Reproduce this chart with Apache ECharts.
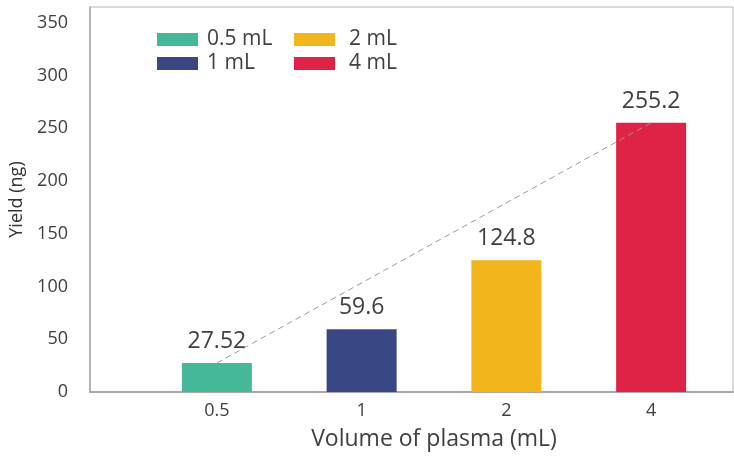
<!DOCTYPE html>
<html>
<head>
<meta charset="utf-8">
<script src="https://cdn.jsdelivr.net/npm/echarts@6/dist/echarts.min.js"></script>
<style>html,body{margin:0;padding:0;background:#fff}#c{width:734px;height:457px}</style>
</head>
<body>
<div id="c"></div>
<script>
var categories = ['0.5', '1', '2', '4'];
var seriesNames = ['0.5 mL', '1 mL', '2 mL', '4 mL'];
var yields = [27.52, 59.6, 124.8, 255.2];
var colors = ['#45B899', '#3A4785', '#F2B61C', '#DE2346'];
var yTicks = [0, 50, 100, 150, 200, 250, 300, 350];

var FONT = 'Open Sans';
var TXT = '#404040';
var YMAX = 365;

var series = seriesNames.map(function (name, i) {
  return {
    name: name,
    type: 'bar',
    xAxisIndex: 1,
    yAxisIndex: 1,
    stack: 'all',
    barWidth: 70,
    itemStyle: { color: colors[i] },
    label: {
      show: true, position: 'top', distance: 10,
      fontFamily: FONT, fontSize: 23, color: TXT,
      formatter: function (p) { return String(yields[p.dataIndex]); }
    },
    data: categories.map(function (c, j) { return j === i ? yields[j] : '-'; })
  };
});
series.push({
  type: 'line',
  xAxisIndex: 1,
  yAxisIndex: 1,
  symbol: 'none',
  connectNulls: true,
  silent: true,
  lineStyle: { type: [6, 4], color: '#9a9a9a', width: 1 },
  data: categories.map(function (c, j) { return (j === 0 || j === categories.length - 1) ? yields[j] : '-'; }),
  z: 5
});

var legendCommon = {
  orient: 'vertical',
  itemWidth: 41, itemHeight: 13, itemGap: 3,
  icon: 'rect',
  textStyle: { fontFamily: FONT, fontSize: 21, color: TXT, padding: [0, 0, 0, 4] }
};

var option = {
  animation: false,
  legend: [
    Object.assign({}, legendCommon, { left: 152, top: 24, data: seriesNames.slice(0, 2) }),
    Object.assign({}, legendCommon, { left: 289, top: 24, data: seriesNames.slice(2, 4),
      textStyle: Object.assign({}, legendCommon.textStyle, { padding: [0, 0, 0, 9] }) })
  ],
  grid: [
    { left: 85, right: 1, top: 7, bottom: 65, show: true, borderColor: '#b5b5b5', borderWidth: 1 },
    { left: 144.5, right: 10.5, top: 7, bottom: 65 }
  ],
  xAxis: [
    {
      gridIndex: 0, type: 'value', min: 0, max: 1,
      axisLine: { show: true, lineStyle: { color: '#a8a8a8', width: 2 } },
      axisTick: { show: false }, axisLabel: { show: false }, splitLine: { show: false }
    },
    {
      gridIndex: 1, type: 'category', data: categories,
      axisLine: { show: false }, axisTick: { show: false },
      axisLabel: { fontFamily: FONT, fontSize: 18, color: TXT, margin: 10 },
      name: 'Volume of plasma (mL)', nameLocation: 'middle', nameGap: 36,
      nameTextStyle: { fontFamily: FONT, fontSize: 23, color: TXT }
    }
  ],
  yAxis: [
    {
      gridIndex: 0, type: 'value', min: 0, max: YMAX, interval: 50,
      axisLine: { show: true, lineStyle: { color: '#a8a8a8', width: 1.5 } },
      axisTick: { show: false }, splitLine: { show: false },
      axisLabel: {
        fontFamily: FONT, fontSize: 18, color: TXT, margin: 22,
        formatter: function (v) { return yTicks.indexOf(v) >= 0 ? String(v) : ''; }
      },
      name: 'Yield (ng)', nameLocation: 'middle', nameGap: 64,
      nameTextStyle: { fontFamily: FONT, fontSize: 18, color: '#333' }
    },
    {
      gridIndex: 1, type: 'value', min: 0, max: YMAX, show: false
    }
  ],
  series: series
};

var chart = echarts.init(document.getElementById('c'));
chart.setOption(option);
</script>
</body>
</html>
